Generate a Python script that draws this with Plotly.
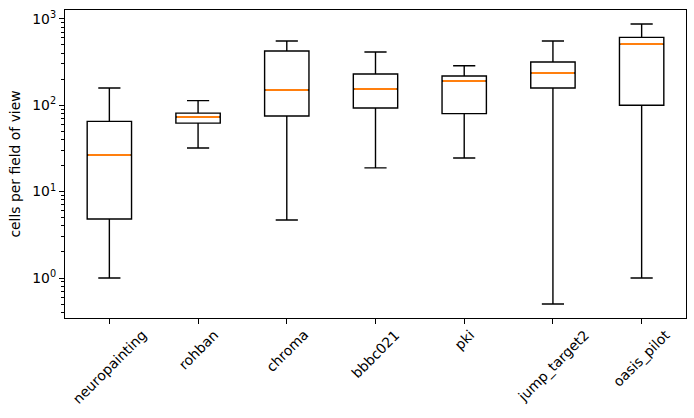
import plotly.graph_objects as go

categories = ["neuropainting", "rohban", "chroma", "bbbc021", "pki", "jump_target2", "oasis_pilot"]
lower_whisker = [1.0, 32, 4.7, 18.8, 24.5, 0.5, 1.0]
q1_values = [4.82, 62, 75, 93, 80, 158, 100]
medians = [26.5, 73, 150, 154, 191, 236, 510]
q3_values = [65, 81, 424, 230, 218, 316, 609]
upper_whisker = [158, 113, 553, 413, 286, 553, 871]

y_tick_vals = [1, 10, 100, 1000]
y_tick_text = ["10<sup>0</sup>", "10<sup>1</sup>", "10<sup>2</sup>", "10<sup>3</sup>"]

positions = list(range(len(categories)))
box_width = 0.5
FONT = "DejaVu Sans"
FS = 13.9

fig = go.Figure()
fig.add_trace(go.Box(
    x=positions,
    q1=q1_values,
    median=medians,
    q3=q3_values,
    lowerfence=lower_whisker,
    upperfence=upper_whisker,
    width=box_width,
    whiskerwidth=0.5,
    boxpoints=False,
    line=dict(color="black", width=1.4),
    fillcolor="rgba(0,0,0,0)",
    showlegend=False,
    hoverinfo="skip",
))

mx, my = [], []
for p, m in zip(positions, medians):
    mx += [p - box_width / 2 + 0.012, p + box_width / 2 - 0.012, None]
    my += [m, m, None]
fig.add_trace(go.Scatter(
    x=mx, y=my, mode="lines",
    line=dict(color="#ff7f0e", width=2.0),
    showlegend=False, hoverinfo="skip",
))

minor_vals = []
for dec in [0.1, 1, 10, 100, 1000]:
    for k in range(2, 10):
        minor_vals.append(k * dec)

for p, c in zip(positions, categories):
    fig.add_annotation(
        x=p, y=0, xref="x", yref="paper",
        text=c, showarrow=False, textangle=-45,
        xanchor="center", yanchor="top", yshift=-6,
        font=dict(family=FONT, size=FS, color="black"),
    )

fig.update_layout(
    width=694, height=418,
    margin=dict(l=65, r=8, t=10, b=100),
    paper_bgcolor="white", plot_bgcolor="white",
    font=dict(family=FONT, size=FS, color="black"),
    xaxis=dict(
        range=[-0.5, 6.5], tickmode="array", tickvals=positions,
        showticklabels=False, ticks="outside", ticklen=5, tickwidth=1.1,
        tickcolor="black", showline=True, linecolor="black", linewidth=1.1,
        mirror=True, showgrid=False, zeroline=False, automargin=False,
    ),
    yaxis=dict(
        type="log", range=[-0.463, 3.102], tickmode="array",
        tickvals=y_tick_vals, ticktext=y_tick_text,
        ticks="outside", ticklen=5, tickwidth=1.1, tickcolor="black",
        showline=True, linecolor="black", linewidth=1.1, mirror=True,
        showgrid=False, zeroline=False, automargin=False,
        minor=dict(tickmode="array", tickvals=minor_vals, ticks="outside",
                   ticklen=2.8, tickwidth=0.8, tickcolor="black", showgrid=False),
        title=dict(text="cells per field of view", standoff=8,
                   font=dict(family=FONT, size=FS, color="black")),
        tickfont=dict(family=FONT, size=FS, color="black"),
    ),
)

fig.write_html(
    "out.html",
    config={"displayModeBar": False},
    post_script="document.body.style.margin='0';document.body.style.overflow='hidden';",
)
